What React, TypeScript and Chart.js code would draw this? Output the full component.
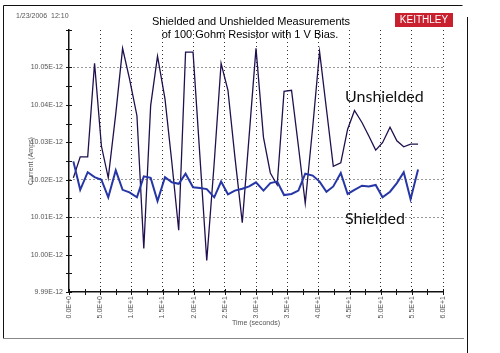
import React, { useEffect, useRef } from "react";
import { Chart, registerables } from "chart.js";

Chart.register(...registerables);

// Time of each reading (seconds)
const timeSeconds = [
  0.7, 1.8, 3.0, 4.1, 5.2, 6.3, 7.5, 8.6, 9.7, 10.9,
  12.0, 13.1, 14.2, 15.4, 16.5, 17.6, 18.7, 19.9, 21.0, 22.1,
  23.3, 24.4, 25.5, 26.6, 27.8, 28.9, 30.0, 31.2, 32.3, 33.4,
  34.5, 35.7, 36.8, 37.9, 39.1, 40.2, 41.3, 42.4, 43.6, 44.7,
  45.8, 47.0, 48.1, 49.2, 50.3, 51.5, 52.6, 53.7, 54.8, 56.0,
];

// Current readings, in units of 1E-12 A
const unshieldedPA = [
  10.0205, 10.0261, 10.0261, 10.0511, 10.0290, 10.0205, 10.0376, 10.0551, 10.0470, 10.0371,
  10.0016, 10.0398, 10.0530, 10.0416, 10.0246, 10.0065, 10.0541, 10.0541, 10.0263, 9.9984,
  10.0246, 10.0511, 10.0439, 10.0263, 10.0085, 10.0317, 10.0551, 10.0313, 10.0218, 10.0186,
  10.0436, 10.0439, 10.0290, 10.0137, 10.0341, 10.0542, 10.0389, 10.0236, 10.0245, 10.0335,
  10.0385, 10.0353, 10.0317, 10.0279, 10.0299, 10.0340, 10.0304, 10.0288, 10.0295, 10.0295,
];

const shieldedPA = [
  10.0249, 10.0173, 10.0220, 10.0207, 10.0200, 10.0153, 10.0225, 10.0173, 10.0166, 10.0153,
  10.0209, 10.0205, 10.0143, 10.0207, 10.0193, 10.0189, 10.0216, 10.0180, 10.0178, 10.0175,
  10.0153, 10.0195, 10.0161, 10.0171, 10.0176, 10.0182, 10.0193, 10.0171, 10.0191, 10.0195,
  10.0159, 10.0162, 10.0171, 10.0216, 10.0211, 10.0195, 10.0168, 10.0182, 10.0218, 10.0162,
  10.0173, 10.0184, 10.0182, 10.0186, 10.0153, 10.0168, 10.0191, 10.0220, 10.0148, 10.0227,
];

const seriesNames = ["Shielded", "Unshielded"];
const titleLines = ["Shielded and Unshielded Measurements", "of 100 Gohm Resistor with 1 V Bias."];
const timestampText = "1/23/2006  12:10";
const brandText = "KEITHLEY";
const xAxisTitle = "Time (seconds)";
const yAxisTitle = "Current (Amps)";

const X_MIN = 0;
const X_MAX = 60;
const X_STEP = 2.5;
const Y_MIN = 9.99;
const Y_MAX = 10.06;
const Y_STEP = 0.005;
const yGridValues = [10.05, 10.02, 10.01];

const tickFont = { family: "'Liberation Sans', Arial, sans-serif", size: 7 };

const thousandths = (v: number) => Math.round(v * 1000);

const decor = {
  id: "decor",
  beforeDraw(chart: any) {
    const { ctx, width, height } = chart;
    ctx.save();
    ctx.fillStyle = "#ffffff";
    ctx.fillRect(0, 0, width, height);
    ctx.restore();
  },
  afterDraw(chart: any) {
    const { ctx, chartArea, scales } = chart;
    ctx.save();
    // outer frame
    ctx.lineWidth = 1;
    ctx.strokeStyle = "#111";
    ctx.beginPath();
    ctx.moveTo(3.5, 338.5);
    ctx.lineTo(3.5, 5.5);
    ctx.lineTo(462.5, 5.5);
    ctx.stroke();
    ctx.strokeStyle = "#888";
    ctx.beginPath();
    ctx.moveTo(3.5, 338.5);
    ctx.lineTo(464, 338.5);
    ctx.stroke();
    ctx.strokeStyle = "#111";
    ctx.beginPath();
    ctx.moveTo(467.5, 17);
    ctx.lineTo(467.5, 353);
    ctx.stroke();

    // crossing tick marks
    ctx.strokeStyle = "#111";
    ctx.lineWidth = 1;
    const xs = scales.x;
    xs.ticks.forEach((t: any) => {
      const px = Math.round(xs.getPixelForValue(t.value)) + 0.5;
      ctx.beginPath();
      ctx.moveTo(px, chartArea.bottom - 3);
      ctx.lineTo(px, chartArea.bottom + 3);
      ctx.stroke();
    });
    const ys = scales.y;
    ys.ticks.forEach((t: any) => {
      const py = Math.round(ys.getPixelForValue(t.value)) + 0.5;
      ctx.beginPath();
      ctx.moveTo(chartArea.left - 3, py);
      ctx.lineTo(chartArea.left + 3, py);
      ctx.stroke();
    });

    // title
    ctx.fillStyle = "#000";
    ctx.textAlign = "center";
    ctx.textBaseline = "middle";
    ctx.font = "11px 'Liberation Sans', Arial, sans-serif";
    ctx.fillText(titleLines[0], 251, 22);
    ctx.fillText(titleLines[1], 250, 35);

    // timestamp
    ctx.fillStyle = "#555";
    ctx.font = "7px 'Liberation Sans', Arial, sans-serif";
    ctx.textAlign = "left";
    ctx.fillText(timestampText, 16, 16);

    // brand box
    ctx.fillStyle = "#c8202e";
    ctx.fillRect(395, 13, 58, 14);
    ctx.fillStyle = "#fff";
    ctx.textAlign = "center";
    ctx.font = "10px 'Liberation Sans', Arial, sans-serif";
    ctx.fillText(brandText, 424, 20.5);

    // axis titles
    ctx.fillStyle = "#555";
    ctx.font = "7px 'Liberation Sans', Arial, sans-serif";
    ctx.fillText(xAxisTitle, (chartArea.left + chartArea.right) / 2, 323);
    ctx.save();
    ctx.translate(31, (chartArea.top + chartArea.bottom) / 2);
    ctx.rotate(-Math.PI / 2);
    ctx.fillText(yAxisTitle, 0, 0);
    ctx.restore();

    // series annotations
    ctx.fillStyle = "#111";
    ctx.textAlign = "left";
    ctx.font = "16px Lato, 'Open Sans', sans-serif";
    ctx.fillText(seriesNames[1], 345, 97);
    ctx.fillText(seriesNames[0], 345, 219);
    ctx.restore();
  },
};

export default function App() {
  const canvasRef = useRef<HTMLCanvasElement | null>(null);

  useEffect(() => {
    if (!canvasRef.current) return;
    const chart = new Chart(canvasRef.current, {
      type: "line",
      data: {
        datasets: [
          {
            label: seriesNames[0],
            data: timeSeconds.map((t, i) => ({ x: t, y: shieldedPA[i] })),
            borderColor: "#2636a6",
            borderWidth: 2,
            pointRadius: 0,
            tension: 0,
          },
          {
            label: seriesNames[1],
            data: timeSeconds.map((t, i) => ({ x: t, y: unshieldedPA[i] })),
            borderColor: "#20104e",
            borderWidth: 1.3,
            pointRadius: 0,
            tension: 0,
          },
        ],
      },
      options: {
        animation: false,
        responsive: false,
        devicePixelRatio: 1,
        layout: { padding: { left: 0, top: 30, right: 57, bottom: 0 } },
        plugins: { legend: { display: false }, tooltip: { enabled: false }, title: { display: false } },
        scales: {
          x: {
            type: "linear",
            min: X_MIN,
            max: X_MAX,
            afterFit: (s: any) => {
              s.height = 61;
            },
            ticks: {
              stepSize: X_STEP,
              autoSkip: false,
              minRotation: 90,
              maxRotation: 90,
              padding: 4,
              font: tickFont,
              color: "#555",
              callback: (v: any) => {
                const n = Number(v);
                if (Math.round(n * 10) % 50 !== 0) return "";
                return n === 0 ? "0.0E+0" : n.toExponential(1).toUpperCase();
              },
            },
            grid: {
              drawTicks: false,
              lineWidth: 1,
              color: (c: any) => {
                const v = c.tick ? c.tick.value : 0;
                if (v === X_MIN) return "rgba(0,0,0,0)";
                return Math.round(v * 10) % 50 === 0 ? "#333" : "rgba(0,0,0,0)";
              },
            },
            border: { display: true, color: "#111", width: 1.5, dash: [1, 3] },
          },
          y: {
            type: "linear",
            min: Y_MIN,
            max: Y_MAX,
            afterFit: (s: any) => {
              s.width = 69;
            },
            ticks: {
              stepSize: Y_STEP,
              autoSkip: false,
              padding: 6,
              font: tickFont,
              color: "#555",
              callback: (v: any) => {
                const k = thousandths(Number(v));
                if (k % 10 !== 0 || k === thousandths(Y_MAX)) return "";
                return Number(v).toFixed(2) + "E-12";
              },
            },
            grid: {
              drawTicks: false,
              lineWidth: 1,
              color: (c: any) => {
                const v = c.tick ? c.tick.value : 0;
                return yGridValues.some((g) => thousandths(g) === thousandths(v)) ? "#333" : "rgba(0,0,0,0)";
              },
            },
            border: { display: true, color: "#111", width: 1.5, dash: [1, 3] },
          },
        },
      },
      plugins: [decor],
    } as any);
    return () => chart.destroy();
  }, []);

  return (
    <div style={{ position: "absolute", left: 0, top: 0, width: 500, height: 353 }}>
      <canvas ref={canvasRef} width={500} height={353} style={{ display: "block" }} />
    </div>
  );
}
